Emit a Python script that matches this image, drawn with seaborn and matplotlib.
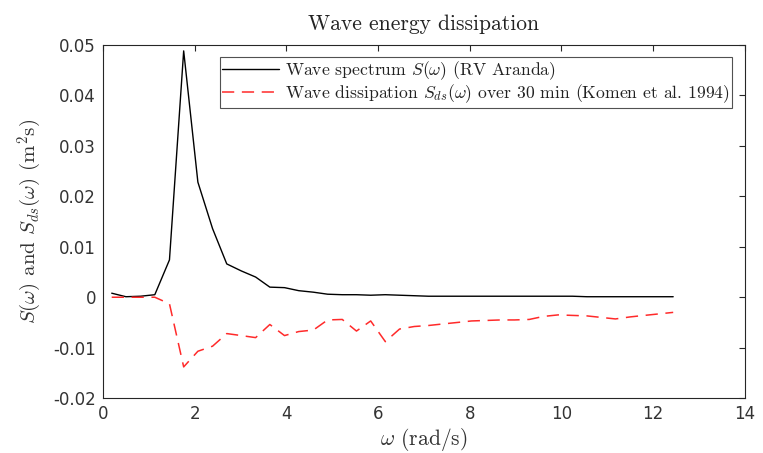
import numpy as np
import pandas as pd
import matplotlib
matplotlib.use("Agg")
import matplotlib.pyplot as plt
import seaborn as sns

# --- data ---
omega = [0.19, 0.50, 0.82, 1.13, 1.45, 1.76, 2.07, 2.39, 2.70, 3.02,
         3.33, 3.64, 3.96, 4.27, 4.59, 4.90, 5.22, 5.53, 5.84, 6.16,
         6.47, 6.79, 7.10, 7.41, 7.73, 8.04, 8.36, 8.67, 8.98, 9.30,
         9.61, 9.93, 10.24, 10.56, 10.87, 11.18, 11.50, 11.81, 12.13, 12.44]

spectrum = [0.0008, 0.0001, 0.0002, 0.0005, 0.0074, 0.0488, 0.0228, 0.0136, 0.0066, 0.0052,
            0.0040, 0.0020, 0.0019, 0.0013, 0.0010, 0.0006, 0.0005, 0.0005, 0.0004, 0.0005,
            0.0004, 0.0003, 0.0002, 0.0002, 0.0002, 0.0002, 0.0002, 0.0002, 0.0002, 0.0002,
            0.0002, 0.0002, 0.0002, 0.0001, 0.0001, 0.0001, 0.0001, 0.0001, 0.0001, 0.0001]

dissipation = [0.0, 0.0, 0.0, 0.0, -0.0013, -0.0138, -0.0107, -0.0097, -0.0072, -0.0076,
               -0.0080, -0.0054, -0.0076, -0.0068, -0.0065, -0.0045, -0.0044, -0.0067, -0.0047, -0.0088,
               -0.0063, -0.0058, -0.0056, -0.0053, -0.0050, -0.0047, -0.0046, -0.0045, -0.0045, -0.0044,
               -0.0038, -0.0035, -0.0036, -0.0037, -0.0040, -0.0043, -0.0039, -0.0036, -0.0033, -0.0030]

x_ticks = [0, 2, 4, 6, 8, 10, 12, 14]
y_ticks = [-0.02, -0.01, 0, 0.01, 0.02, 0.03, 0.04, 0.05]
y_ticklabels = ["-0.02", "-0.01", "0", "0.01", "0.02", "0.03", "0.04", "0.05"]

df = pd.DataFrame({"omega": omega, "S": spectrum, "Sds": dissipation})

# --- style ---
sns.set_style("white")
plt.rcParams["mathtext.fontset"] = "cm"
plt.rcParams["axes.unicode_minus"] = False
plt.rcParams["font.family"] = ["DejaVu Sans"]
serif = "cmr10"
axcol = "#262626"

fig = plt.figure(figsize=(7.63, 4.53), dpi=100)
ax = fig.add_axes([0.135, 0.121, 0.841, 0.780])

sns.lineplot(data=df, x="omega", y="S", ax=ax, color="black", lw=1.0,
             label=r"Wave spectrum $S(\omega)$ (RV Aranda)")
sns.lineplot(data=df, x="omega", y="Sds", ax=ax, color="#ff2a2a", lw=1.1,
             dashes=False, label=r"Wave dissipation $S_{ds}(\omega)$ over 30 min (Komen et al. 1994)")
ax.lines[1].set_linestyle((0, (8, 5)))

ax.set_xlim(0, 14)
ax.set_ylim(-0.02, 0.05)
ax.set_xticks(x_ticks)
ax.set_yticks(y_ticks)
ax.set_yticklabels(y_ticklabels)
ax.tick_params(direction="in", length=4, width=0.8, colors=axcol, labelsize=12,
               top=True, right=True, labelcolor="#333333", pad=5)
for sp in ax.spines.values():
    sp.set_color(axcol)
    sp.set_linewidth(0.8)

ax.set_title("Wave energy dissipation", fontfamily=serif, fontsize=15.5, color="#222222", pad=11)
ax.set_xlabel(r"$\omega$ (rad/s)", fontfamily=serif, fontsize=15.5, color="#333333", labelpad=2)
ax.set_ylabel(r"$S(\omega)$ and $S_{ds}(\omega)$ (m$^2$s)", fontfamily=serif, fontsize=15,
              color="#333333", labelpad=7)

leg = ax.legend(loc="upper right", prop={"family": serif, "size": 12.7}, frameon=True,
                fancybox=False, borderpad=0.15, handlelength=3.2, handletextpad=0.35,
                labelspacing=0.0, borderaxespad=0.7)
leg.get_frame().set_edgecolor(axcol)
leg.get_frame().set_linewidth(0.8)
for t in leg.get_texts():
    t.set_color("#222222")

fig.savefig("out.png", dpi=100)
